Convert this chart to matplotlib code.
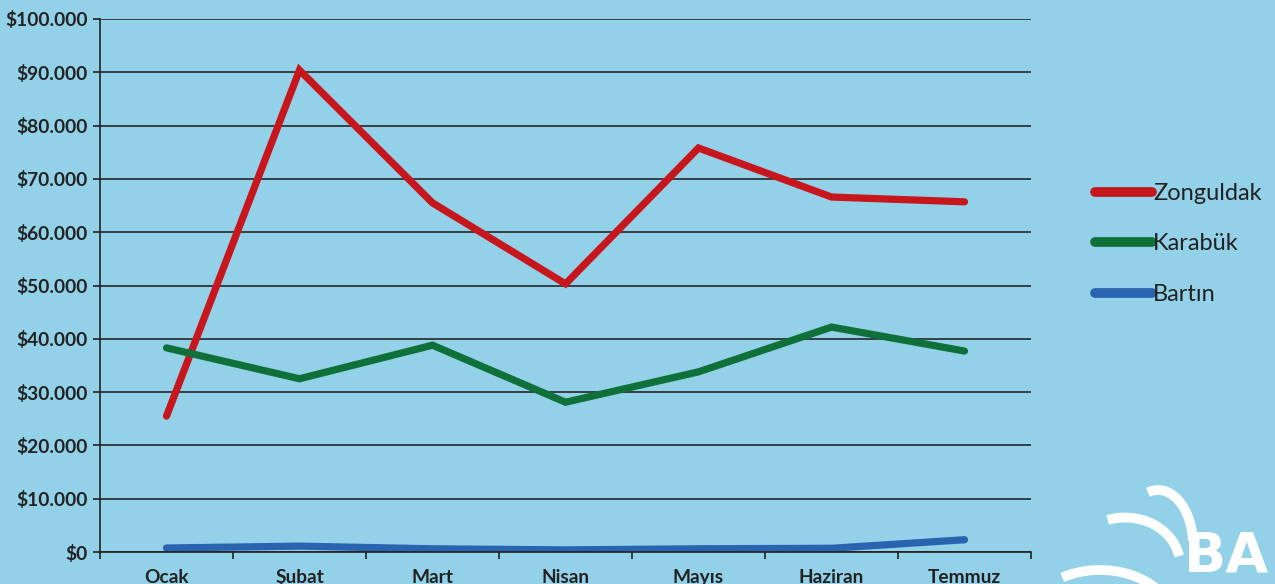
import numpy as np
import matplotlib.pyplot as plt
from matplotlib.patches import Arc

months = ['Ocak', 'Şubat', 'Mart', 'Nisan', 'Mayıs', 'Haziran', 'Temmuz']
zonguldak = [25500, 90400, 65500, 50300, 75800, 66600, 65700]
karabuk = [38300, 32500, 38800, 28100, 33800, 42200, 37700]
bartin = [750, 1100, 600, 400, 600, 700, 2300]

series = [('Zonguldak', zonguldak, '#c8161d'),
          ('Karabük', karabuk, '#10703a'),
          ('Bartın', bartin, '#2a64b0')]

bg = '#93d1e9'
plt.rcParams['font.family'] = ['Lato', 'DejaVu Sans']

fig = plt.figure(figsize=(12.75, 5.84), dpi=100, facecolor=bg)
ax = fig.add_axes([100/1275, 1 - 552/584, 931/1275, 533/584])
ax.set_facecolor('none')

x = np.arange(len(months)) + 0.5
for name, vals, col in series:
    ax.plot(x, vals, color=col, lw=5.2, solid_capstyle='round',
            solid_joinstyle='miter', label=name)

ax.set_xlim(0, len(months))
ax.set_ylim(0, 100000)
ax.set_yticks(np.arange(0, 100001, 10000))
ax.set_yticklabels(['$' + f'{v:,}'.replace(',', '.') for v in range(0, 100001, 10000)])
ax.set_xticks(np.arange(len(months) + 1))
ax.set_xticklabels([])
ax.set_xticks(x, minor=True)
ax.set_xticklabels(months, minor=True)
ax.tick_params(axis='x', which='minor', length=0, pad=12)
ax.tick_params(axis='x', which='major', length=5, width=1.2, color='#222222')
ax.tick_params(axis='y', length=5, width=1.2, color='#222222', pad=4)
for lab in ax.get_yticklabels() + ax.get_xticklabels(minor=True):
    lab.set_fontweight('bold')
    lab.set_fontsize(13.8)
    lab.set_color('#222222')

ax.grid(axis='y', color='#1a1a1a', lw=1.1)
ax.set_axisbelow(True)
for s in ['top', 'right']:
    ax.spines[s].set_visible(False)
for s in ['left', 'bottom']:
    ax.spines[s].set_color('#222222')
    ax.spines[s].set_linewidth(1.2)

leg = fig.legend(loc='center left', bbox_to_anchor=(1074/1275, 1 - 244/584),
                 frameon=False, fontsize=17, handlelength=2.4, handletextpad=0.05,
                 labelspacing=1.25, labelcolor='#222222')
for h in leg.get_lines():
    h.set_linewidth(7)

# logo in the corner
fig.text(1184/1275, 1 - 583/584, 'BA', color='white', fontsize=40,
         fontweight='bold', family='DejaVu Sans', va='bottom', ha='left')
for cx, cy, w, h, t1, t2 in [(1158, 545, 70, 110, 15, 95),
                             (1125, 565, 110, 95, 20, 100),
                             (1100, 625, 150, 110, 40, 110)]:
    fig.add_artist(Arc((cx/1275, 1 - cy/584), w/1275, h/584, theta1=t1, theta2=t2,
                       color='white', lw=7, transform=fig.transFigure))

fig.savefig('out.png', dpi=100, facecolor=bg)
